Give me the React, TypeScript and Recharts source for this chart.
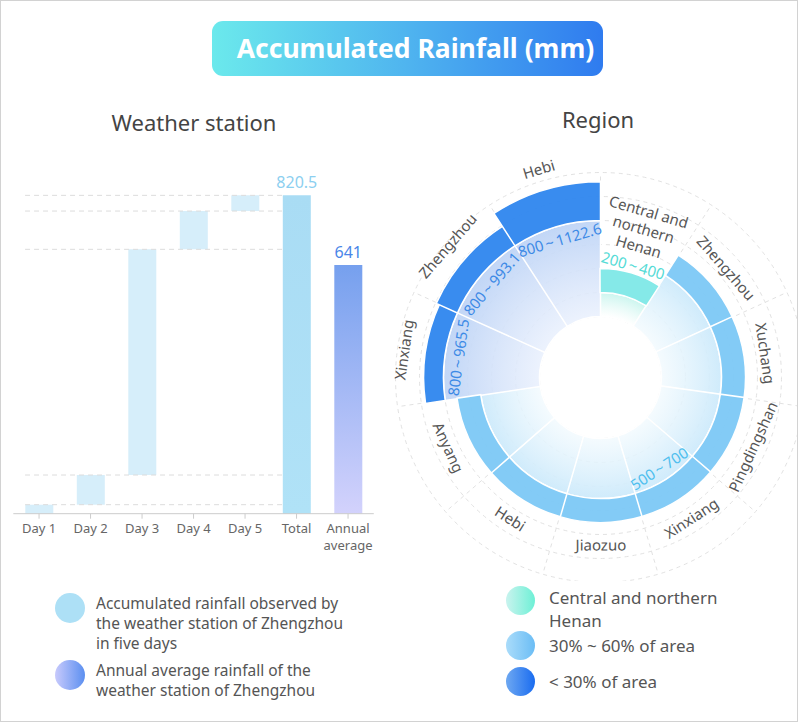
import {
  Bar,
  BarChart,
  Cell,
  LabelList,
  PolarAngleAxis,
  PolarGrid,
  PolarRadiusAxis,
  RadialBar,
  RadialBarChart,
  ReferenceLine,
  Sector,
  XAxis,
  YAxis,
} from "recharts"

const FONT = '"Noto Sans", "Open Sans", sans-serif'

// weather station (Zhengzhou), mm
const stationCategories = ["Day 1", "Day 2", "Day 3", "Day 4", "Day 5", "Total", "Annual\naverage"]
const dailyRain = [23.2, 76.5, 581.7, 98.6, 40.5]
const totalRain = 820.5
const annualAverage = 641

// regions, mm range
const regionNames = [
  "Central and\nnorthern\nHenan",
  "Zhengzhou",
  "Xuchang",
  "Pingdingshan",
  "Xinxiang",
  "Jiaozuo",
  "Hebi",
  "Anyang",
  "Xinxiang",
  "Zhengzhou",
  "Hebi",
]
const rangeLow = [200, 500, 500, 500, 500, 500, 500, 500, 800, 800, 800]
const rangeHigh = [400, 700, 700, 700, 700, 700, 700, 700, 965.5, 993.1, 1122.6]
const regionTier = ["central", "mid", "mid", "mid", "mid", "mid", "mid", "mid", "high", "high", "high"]
const rangeLabelShown = [true, false, false, false, true, false, false, false, true, true, true]

let running = 0
const stationData = stationCategories.map((name, i) => {
  if (i < dailyRain.length) {
    const row = { name, base: running, value: dailyRain[i] }
    running += dailyRain[i]
    return row
  }
  return { name, base: 0, value: name === "Total" ? totalRain : annualAverage }
})
const levels = stationData.slice(0, dailyRain.length).map(d => d.base + d.value)

const regionData = regionNames.map((name, i) => ({
  name,
  low: rangeLow[i],
  band: +(rangeHigh[i] - rangeLow[i]).toFixed(1),
  high: rangeHigh[i],
  tier: regionTier[i],
  showRange: rangeLabelShown[i],
}))

const TIER_STYLE: Record<
  string,
  { band: string; baseFrom: string; fromOpacity: number; baseTo: string; label: string }
> = {
  central: { band: "#7ee8e7", baseFrom: "#ffffff", fromOpacity: 0.7, baseTo: "#c9f5ee", label: "#55dbd6" },
  mid: { band: "#7cc8f5", baseFrom: "#f2fafe", fromOpacity: 0.8, baseTo: "#cdeafb", label: "#4fbfee" },
  high: { band: "#2e86ee", baseFrom: "#e9f0fd", fromOpacity: 0.85, baseTo: "#bed4f6", label: "#3d8ae6" },
}

const BAR_SIZE = 28
// the centric radial bars come out one band counter-clockwise of the axis start,
// so start one band earlier to put the first region just right of 12 o'clock
const BAND_ANGLE = 360 / regionNames.length

function StationTick({ x, y, payload }: any) {
  const lines = String(payload.value).split("\n")
  return (
    <text x={x} y={y} textAnchor="middle" fill="#666" fontSize={13} fontFamily={FONT}>
      {lines.map((l, i) => (
        <tspan key={i} x={x} dy={i === 0 ? 12 : 17}>
          {l}
        </tspan>
      ))}
    </text>
  )
}

function BaseSector(props: any) {
  const { cx, cy, innerRadius, outerRadius, startAngle, endAngle, index } = props
  const st = TIER_STYLE[regionData[index].tier]
  const id = `base-grad-${index}`
  return (
    <g>
      <defs>
        <radialGradient id={id} gradientUnits="userSpaceOnUse" cx={cx} cy={cy} r={outerRadius}>
          <stop offset={innerRadius / outerRadius} stopColor={st.baseFrom} stopOpacity={st.fromOpacity} />
          <stop offset={1} stopColor={st.baseTo} stopOpacity={0.95} />
        </radialGradient>
      </defs>
      <Sector
        cx={cx}
        cy={cy}
        innerRadius={innerRadius}
        outerRadius={outerRadius}
        startAngle={startAngle}
        endAngle={endAngle}
        fill={`url(#${id})`}
        stroke="#ffffff"
        strokeWidth={1.5}
      />
    </g>
  )
}

function BandSector(props: any) {
  const { cx, cy, innerRadius, outerRadius, startAngle, endAngle, index } = props
  const row = regionData[index]
  const st = TIER_STYLE[row.tier]
  const mid = (startAngle + endAngle) / 2
  const rad = (mid * Math.PI) / 180
  const flip = Math.sin(rad) < -0.01
  const rot = 90 - mid + (flip ? 180 : 0)
  const at = (r: number) => [cx + r * Math.cos(rad), cy - r * Math.sin(rad)]
  const lines = row.name.split("\n")
  const lh = 18
  const [lx, ly] = at(outerRadius + (lines.length > 1 ? 28 : 22))
  const rangeR = row.tier === "central" ? outerRadius + 8 : innerRadius - 13
  const [rx, ry] = at(rangeR)
  return (
    <g>
      <Sector
        cx={cx}
        cy={cy}
        innerRadius={innerRadius}
        outerRadius={outerRadius}
        startAngle={startAngle}
        endAngle={endAngle}
        fill={st.band}
        fillOpacity={0.95}
        stroke="#ffffff"
        strokeWidth={1.5}
      />
      <g transform={`translate(${lx},${ly}) rotate(${rot})`}>
        <text textAnchor="middle" dominantBaseline="central" fill="#555" fontSize={15} fontFamily={FONT}>
          {lines.map((l, i) => (
            <tspan key={i} x={0} y={flip ? i * lh : -(lines.length - 1 - i) * lh}>
              {l}
            </tspan>
          ))}
        </text>
      </g>
      {row.showRange && (
        <g transform={`translate(${rx},${ry}) rotate(${rot})`}>
          <text
            textAnchor="middle"
            dominantBaseline="central"
            fill={st.label}
            fontSize={15}
            fontFamily={FONT}
          >
            {`${row.low}\u2009~\u2009${row.high}`}
          </text>
        </g>
      )}
    </g>
  )
}

function LegendDot({ bg, size }: { bg: string; size: number }) {
  return (
    <div
      style={{
        width: size,
        height: size,
        borderRadius: "50%",
        background: bg,
        flexShrink: 0,
      }}
    />
  )
}

export default function App() {
  return (
    <div
      style={{
        position: "relative",
        width: 798,
        height: 722,
        border: "1px solid #d2d2d2",
        boxSizing: "border-box",
        background: "#fff",
        fontFamily: FONT,
        overflow: "hidden",
      }}
    >
      <style>{"body{margin:0}"}</style>

      <div
        style={{
          position: "absolute",
          left: 211,
          top: 20,
          width: 391,
          height: 55,
          borderRadius: 11,
          background: "linear-gradient(90deg, #6be9ec 0%, #4fb4ef 50%, #2f7bef 100%)",
          color: "#fff",
          fontWeight: 700,
          fontSize: 26.5,
          lineHeight: "54px",
          textAlign: "center",
          paddingLeft: 16,
          boxSizing: "border-box",
          whiteSpace: "nowrap",
        }}
      >
        Accumulated Rainfall (mm)
      </div>

      <div
        style={{
          position: "absolute",
          left: 43,
          top: 105,
          width: 300,
          textAlign: "center",
          fontSize: 22,
          color: "#444",
          lineHeight: "32px",
        }}
      >
        Weather station
      </div>
      <div
        style={{
          position: "absolute",
          left: 447,
          top: 102,
          width: 300,
          textAlign: "center",
          fontSize: 22,
          color: "#444",
          lineHeight: "32px",
        }}
      >
        Region
      </div>

      <div style={{ position: "absolute", left: 0, top: 150 }}>
        <BarChart
          width={390}
          height={410}
          data={stationData}
          margin={{ top: 13.5, right: 17.2, bottom: 7.3, left: 12.3 }}
          barSize={BAR_SIZE}
        >
          <defs>
            <linearGradient id="totalGrad" x1="0" y1="0" x2="0" y2="1">
              <stop offset="0%" stopColor="#a9dcf4" />
              <stop offset="100%" stopColor="#b0e2f7" />
            </linearGradient>
            <linearGradient id="annualGrad" x1="0" y1="0" x2="0" y2="1">
              <stop offset="0%" stopColor="#76a0ee" />
              <stop offset="100%" stopColor="#d3d2fc" />
            </linearGradient>
          </defs>
          <XAxis
            dataKey="name"
            height={40}
            axisLine={{ stroke: "#cccccc" }}
            tickLine={{ stroke: "#cccccc" }}
            tickSize={5}
            interval={0}
            tick={<StationTick />}
          />
          <YAxis hide domain={[0, 900]} />
          {levels.map((lvl, i) => (
            <ReferenceLine
              key={i}
              segment={[
                { x: "Day 1", y: lvl },
                { x: "Total", y: lvl },
              ]}
              shape={(p: any) => (
                <line
                  x1={p.x1 - BAR_SIZE / 2}
                  y1={p.y1}
                  x2={p.x2 - BAR_SIZE / 2}
                  y2={p.y2}
                  stroke="#dcdcdc"
                  strokeDasharray="5 4"
                />
              )}
            />
          ))}
          <Bar dataKey="base" stackId="w" fill="transparent" isAnimationActive={false} />
          <Bar dataKey="value" stackId="w" isAnimationActive={false}>
            {stationData.map((d, i) => (
              <Cell
                key={i}
                fill={
                  d.name === "Total"
                    ? "url(#totalGrad)"
                    : i >= dailyRain.length
                    ? "url(#annualGrad)"
                    : "#d6eefa"
                }
              />
            ))}
            <LabelList
              dataKey="value"
              content={(p: any) => {
                if (p.index < dailyRain.length) return null
                const isTotal = stationData[p.index].name === "Total"
                return (
                  <text
                    x={Number(p.x) + Number(p.width) / 2}
                    y={Number(p.y) - 7}
                    textAnchor="middle"
                    fill={isTotal ? "#8ccff0" : "#4a86e8"}
                    fontSize={16}
                    fontFamily={FONT}
                  >
                    {p.value}
                  </text>
                )
              }}
            />
          </Bar>
        </BarChart>
      </div>

      <div style={{ position: "absolute", left: 380, top: 150 }}>
        <RadialBarChart
          width={418}
          height={430}
          cx={219.5}
          cy={226.5}
          innerRadius={61}
          outerRadius={205}
          startAngle={90 - BAND_ANGLE}
          endAngle={-270 - BAND_ANGLE}
          layout="centric"
          data={regionData}
          barCategoryGap="0%"
          margin={{ top: 0, right: 0, bottom: 0, left: 0 }}
        >
          <PolarGrid gridType="circle" stroke="#e2e2e2" strokeDasharray="4 4" />
          <PolarAngleAxis type="category" tick={false} axisLine={false} />
          <PolarRadiusAxis type="number" domain={[0, 1200]} tickCount={7} tick={false} axisLine={false} />
          <RadialBar dataKey="low" stackId="r" shape={BaseSector} isAnimationActive={false} />
          <RadialBar dataKey="band" stackId="r" shape={BandSector} isAnimationActive={false} />
        </RadialBarChart>
      </div>

      <div style={{ position: "absolute", left: 54, top: 592, display: "flex", gap: 11 }}>
        <LegendDot size={30} bg="#ade0f6" />
        <div style={{ fontSize: 15.5, lineHeight: "20px", color: "#555" }}>
          Accumulated rainfall observed by
          <br />
          the weather station of Zhengzhou
          <br />
          in five days
        </div>
      </div>
      <div style={{ position: "absolute", left: 54, top: 659, display: "flex", gap: 11 }}>
        <LegendDot size={30} bg="linear-gradient(90deg, #c8cafc, #5b8ff0)" />
        <div style={{ fontSize: 15.5, lineHeight: "20px", color: "#555" }}>
          Annual average rainfall of the
          <br />
          weather station of Zhengzhou
        </div>
      </div>

      <div style={{ position: "absolute", left: 505, top: 585, display: "flex", gap: 14 }}>
        <LegendDot size={29} bg="linear-gradient(90deg, #c9f3ee, #6ef0d6)" />
        <div style={{ fontSize: 17, lineHeight: "23px", color: "#555" }}>
          Central and northern
          <br />
          Henan
        </div>
      </div>
      <div style={{ position: "absolute", left: 505, top: 630, display: "flex", gap: 14 }}>
        <LegendDot size={29} bg="linear-gradient(90deg, #aadcfa, #6bbdf5)" />
        <div style={{ fontSize: 17, lineHeight: "29px", color: "#555" }}>30% ~ 60% of area</div>
      </div>
      <div style={{ position: "absolute", left: 505, top: 666, display: "flex", gap: 14 }}>
        <LegendDot size={29} bg="linear-gradient(90deg, #6ea8f1, #1a6cf0)" />
        <div style={{ fontSize: 17, lineHeight: "29px", color: "#555" }}>&lt; 30% of area</div>
      </div>
    </div>
  )
}
